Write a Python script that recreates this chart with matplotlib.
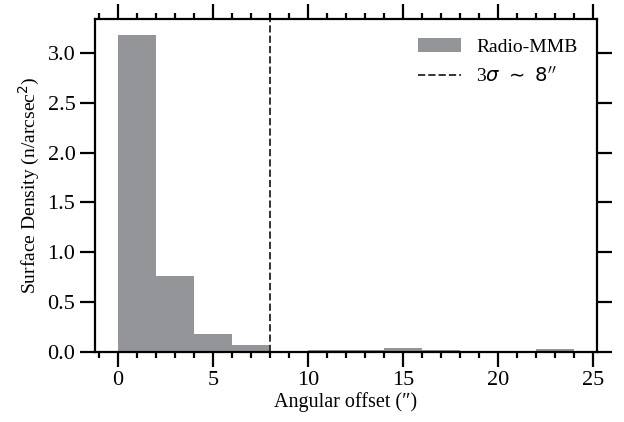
import numpy as np
import matplotlib.pyplot as plt
from matplotlib.ticker import MultipleLocator, FormatStrFormatter

# histogram of angular offsets, bins 2" wide
bin_left = [0, 2, 4, 6, 8, 10, 12, 14, 16, 18, 20, 22]
density = [3.18, 0.76, 0.18, 0.07, 0.0, 0.015, 0.015, 0.035, 0.015, 0.0, 0.0, 0.03]
cut = 8  # 3 sigma radius

plt.rcParams['font.family'] = ['Liberation Serif', 'DejaVu Serif']
plt.rcParams['mathtext.fontset'] = 'dejavusans'

fig = plt.figure(figsize=(6.24, 4.22), dpi=100)
ax = fig.add_axes([0.152, 0.166, 0.805, 0.789])

bars = ax.bar(bin_left, density, width=2, align='edge', color='#939598', label='Radio-MMB')
vline = ax.axvline(cut, color='#333333', ls='--', lw=1.4, label=r'3$\sigma\ \sim\ 8^{\prime\prime}$')

ax.set_xlim(-1.2, 25.2)
ax.set_ylim(0, 3.34)
ax.xaxis.set_major_locator(MultipleLocator(5))
ax.xaxis.set_minor_locator(MultipleLocator(1))
ax.yaxis.set_major_locator(MultipleLocator(0.5))
ax.yaxis.set_major_formatter(FormatStrFormatter('%.1f'))

ax.tick_params(which='both', direction='out', top=True, right=True, width=1.6, labelsize=16)
ax.tick_params(which='major', length=11, pad=3)
ax.tick_params(which='minor', length=4.5)
for s in ax.spines.values():
    s.set_linewidth(1.6)

ax.set_xlabel('Angular offset (\u2033)', fontsize=14.5, labelpad=1)
ax.set_ylabel('Surface Density (n/arcsec$^2$)', fontsize=14)

ax.legend(handles=[bars, vline], loc='upper right', frameon=False, fontsize=14,
          handlelength=2.2, borderaxespad=0.6, labelspacing=0.5)

fig.savefig('out.png', dpi=100)
